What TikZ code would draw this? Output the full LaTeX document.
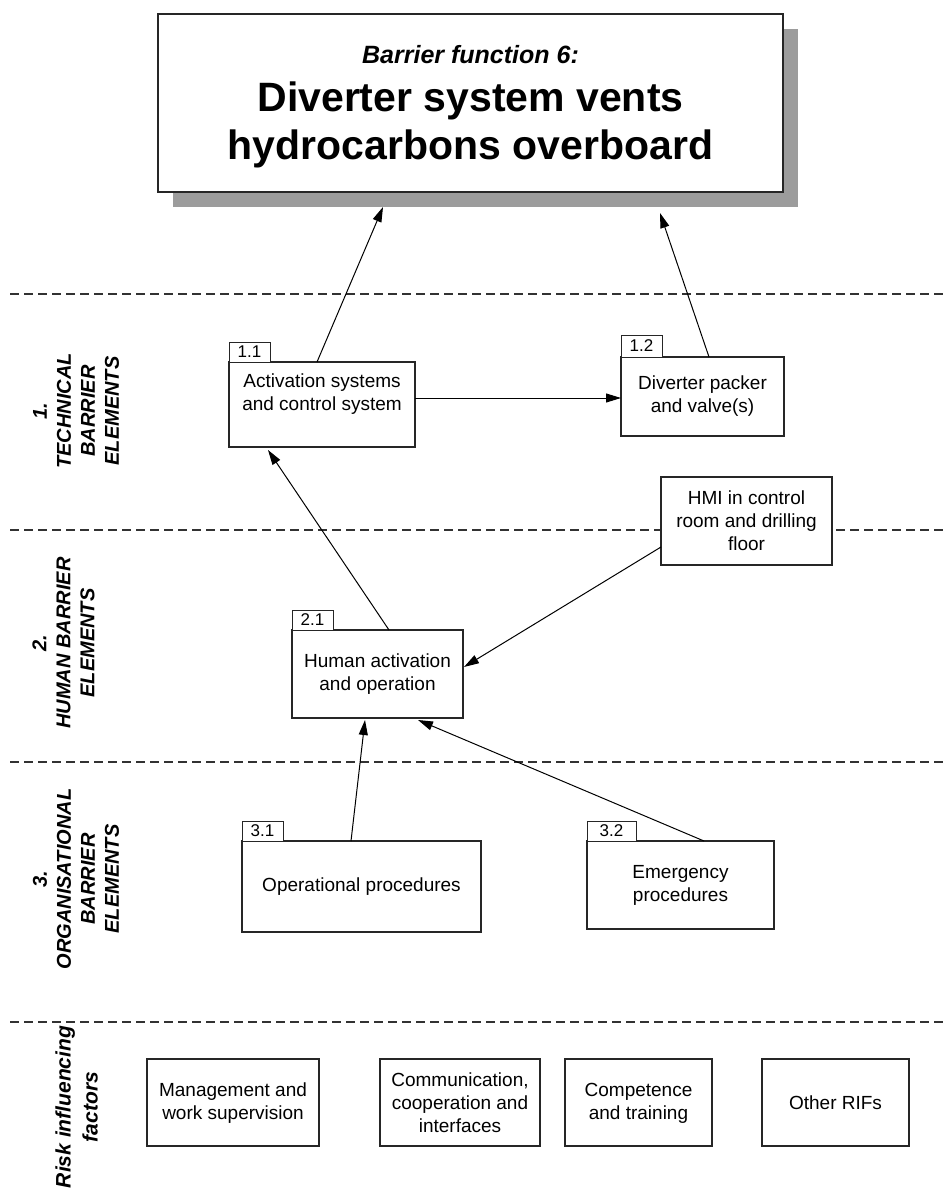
\documentclass[tikz,border=0pt]{standalone}
\usepackage{fontspec}
\setmainfont{Liberation Sans}
\usetikzlibrary{arrows.meta,calc}
\definecolor{shadowgray}{RGB}{156,156,156}
\definecolor{linegray}{RGB}{50,50,50}

\begin{document}
\begin{tikzpicture}[x=1pt,y=-1pt,
  every node/.style={inner sep=0pt, outer sep=0pt},
  elbox/.style={draw=black!85, line width=1.2pt, fill=white},
  eltext/.style={align=center, font=\fontsize{19}{23}\selectfont},
  tabbox/.style={draw=black!85, line width=1pt, fill=white, minimum height=20pt,
                 minimum width=41pt, font=\fontsize{17}{17}\selectfont},
  sidelabel/.style={rotate=90, align=center, font=\fontsize{20}{24}\selectfont\bfseries\itshape},
  layerline/.style={draw=linegray, line width=1.1pt, dash pattern=on 9pt off 5pt},
  flow/.style={draw=black, line width=1pt, -{Triangle[length=15pt,width=9pt]}},
]
\useasboundingbox (0,0) rectangle (944,1188);

% layer separators
\draw[layerline] (10,294) -- (944,294);
\draw[layerline] (10,530) -- (944,530);
\draw[layerline] (10,762) -- (944,762);
\draw[layerline] (10,1022) -- (944,1022);

% barrier function box with drop shadow
\node[fill=shadowgray, minimum width=625pt, minimum height=178pt] (shadow) at (485.5,118) {};
\node[elbox, minimum width=625pt, minimum height=178pt] (title) at (470.5,103) {};
\node[anchor=base, font=\fontsize{25}{30}\selectfont\bfseries\itshape] (tl1) at (470.5,64) {Barrier function 6:};
\node[anchor=base, font=\fontsize{41}{47}\selectfont\bfseries] (tl2) at (470.5,112) {Diverter system vents};
\node[anchor=base, font=\fontsize{41}{47}\selectfont\bfseries] (tl3) at (470.5,160) {hydrocarbons overboard};

% layer captions
\node[sidelabel] (s1) at (76,411) {1.\\TECHNICAL\\BARRIER\\ELEMENTS};
\node[sidelabel] (s2) at (63.5,643) {2.\\HUMAN BARRIER\\ELEMENTS};
\node[sidelabel] (s3) at (76,879) {3.\\ORGANISATIONAL\\BARRIER\\ELEMENTS};
\node[sidelabel, font=\fontsize{21}{27}\selectfont\bfseries\itshape] (s4) at (76.5,1107) {Risk influencing\\factors};

% technical barrier elements
\node[elbox, minimum width=186pt, minimum height=85pt] (a11) at (322,404.5) {};
\node[eltext] (a11t) at (322,394) {Activation systems\\and control system};
\node[tabbox, anchor=south west] (a11n) at (a11.north west) {1.1};

\node[elbox, minimum width=163pt, minimum height=79pt] (a12) at (702.5,396.5) {};
\node[eltext] (a12t) at (702.5,396) {Diverter packer\\and valve(s)};
\node[tabbox, anchor=south west, minimum height=22pt] (a12n) at (a12.north west) {1.2};

\node[elbox, minimum width=171pt, minimum height=88pt] (hmi) at (746.5,521) {};
\node[eltext] (hmit) at (746.5,521) {HMI in control\\room and drilling\\floor};

% human barrier element
\node[elbox, minimum width=171pt, minimum height=88pt] (a21) at (377.5,674) {};
\node[eltext] (a21t) at (377.5,674.5) {Human activation\\and operation};
\node[tabbox, anchor=south west] (a21n) at (a21.north west) {2.1};

% organisational barrier elements
\node[elbox, minimum width=239pt, minimum height=91pt] (a31) at (361.5,886.5) {};
\node[eltext] (a31t) at (361.5,887) {Operational procedures};
\node[tabbox, anchor=south west] (a31n) at (a31.north west) {3.1};

\node[elbox, minimum width=187pt, minimum height=88pt] (a32) at (680.5,885) {};
\node[eltext] (a32t) at (680.5,885.5) {Emergency\\procedures};
\node[tabbox, anchor=south west, minimum width=49pt] (a32n) at (a32.north west) {3.2};

% risk influencing factors
\node[elbox, minimum width=172pt, minimum height=87pt] (r1) at (233,1102.5) {};
\node[eltext] (r1t) at (233,1103) {Management and\\work supervision};
\node[elbox, minimum width=160pt, minimum height=87pt] (r2) at (460,1102.5) {};
\node[eltext] (r2t) at (460,1103) {Communication,\\cooperation and\\interfaces};
\node[elbox, minimum width=147pt, minimum height=87pt] (r3) at (638.5,1102.5) {};
\node[eltext] (r3t) at (638.5,1103) {Competence\\and training};
\node[elbox, minimum width=147pt, minimum height=87pt] (r4) at (835.5,1102.5) {};
\node[eltext] (r4t) at (835.5,1102.5) {Other RIFs};

% influence arrows
\draw[flow] ($(a11.north west)+(88,0)$) -- ($(shadow.south west)+(210,0)$);
\draw[flow] ($(a12.north west)+(88,0)$) -- ($(shadow.south west)+(487,6)$);
\draw[flow] ($(a11.north east)+(0,36)$) -- ($(a12.north west)+(0,41)$);
\draw[flow] ($(a21.north west)+(97,0)$) -- ($(a11.south west)+(39,3)$);
\draw[flow] ($(hmi.south west)+(0,-18)$) -- ($(a21.north east)+(1,37)$);
\draw[flow] ($(a31.north west)+(109,0)$) -- ($(a21.south west)+(73,2)$);
\draw[flow] ($(a32.north west)+(117,0)$) -- ($(a21.south west)+(126,2)$);
\end{tikzpicture}
\end{document}
